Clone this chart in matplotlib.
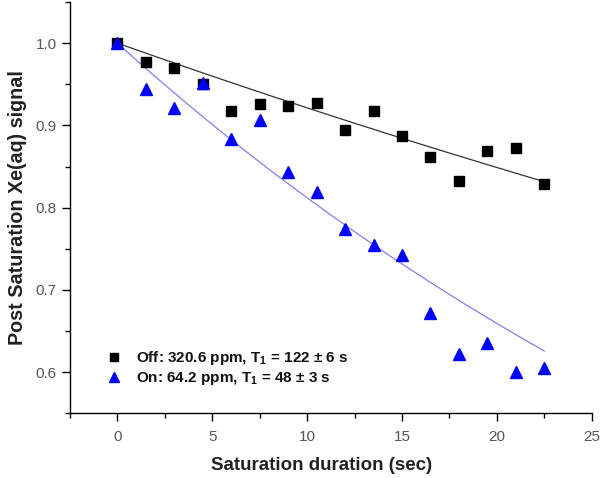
import numpy as np
import matplotlib
matplotlib.use("Agg")
import matplotlib.pyplot as plt
from matplotlib.ticker import MultipleLocator, FormatStrFormatter

plt.rcParams['font.family'] = ['Liberation Sans', 'DejaVu Sans']
plt.rcParams['mathtext.fontset'] = 'custom'
plt.rcParams['mathtext.bf'] = 'Liberation Sans:bold'
plt.rcParams['mathtext.rm'] = 'Liberation Sans'

# Data
time_off = [0, 1.5, 3, 4.5, 6, 7.5, 9, 10.5, 12, 13.5, 15, 16.5, 18, 19.5, 21, 22.5]
signal_off = [1.000, 0.977, 0.970, 0.950, 0.918, 0.926, 0.924, 0.927, 0.895,
              0.917, 0.887, 0.862, 0.833, 0.869, 0.873, 0.829]
time_on = [0, 1.5, 3, 4.5, 6, 7.5, 9, 10.5, 12, 13.5, 15, 16.5, 18, 19.5, 21, 22.5]
signal_on = [1.000, 0.944, 0.921, 0.952, 0.883, 0.906, 0.843, 0.819, 0.774,
             0.754, 0.742, 0.672, 0.622, 0.635, 0.600, 0.605]
T1_off = 122.0
T1_on = 48.0
label_off = r"Off: 320.6 ppm, $\mathbf{T_1}$ = 122 ± 6 s"
label_on = r"On: 64.2 ppm, $\mathbf{T_1}$ = 48 ± 3 s"
xticks = [0, 5, 10, 15, 20, 25]

fig = plt.figure(figsize=(6.01, 4.78), dpi=100)
ax = fig.add_axes([70/601, 1-413.3/478, (591.7-70)/601, (413.3-2)/478])

tfit = np.linspace(0, max(time_off), 200)
ax.plot(tfit, np.exp(-tfit / T1_off), color='#333333', lw=0.9, zorder=2)
ax.plot(tfit, np.exp(-tfit / T1_on), color='#8080ee', lw=0.9, zorder=2)

ax.plot(time_off, signal_off, linestyle='none', marker='s', ms=7.5,
        color='black', label=label_off, zorder=3)
ax.plot(time_on, signal_on, linestyle='none', marker='^', ms=9,
        color='#0000ff', label=label_on, zorder=3)

ax.set_xlim(-2.5, 25)
ax.set_ylim(0.55, 1.05)
ax.set_xticks(xticks)
ax.xaxis.set_minor_locator(MultipleLocator(2.5))
ax.yaxis.set_major_locator(MultipleLocator(0.1))
ax.yaxis.set_minor_locator(MultipleLocator(0.05))
ax.yaxis.set_major_formatter(FormatStrFormatter('%.1f'))
ax.tick_params(which='major', direction='out', length=6, width=1,
               labelsize=11, labelcolor='#555555')
ax.tick_params(axis='x', which='major', pad=6)
ax.tick_params(axis='y', which='major', pad=3.5)
ax.tick_params(which='minor', direction='out', length=3.5, width=1)

for s in ['top', 'right']:
    ax.spines[s].set_visible(False)
for s in ['left', 'bottom']:
    ax.spines[s].set_linewidth(1.0)

ax.set_xlabel('Saturation duration (sec)', fontsize=13.5, fontweight='bold',
              color='#222222')
ax.set_ylabel('Post Saturation Xe(aq) signal', fontsize=14.2, fontweight='bold',
              color='#222222')
ax.xaxis.set_label_coords(0.482, -0.106)
ax.yaxis.set_label_coords(-0.082, 0.50)

leg = ax.legend(loc='lower left', bbox_to_anchor=(0.044, 0.03), frameon=False,
                prop={'size': 11, 'weight': 'bold'}, handlelength=1.0,
                handletextpad=0.9, labelspacing=0.22, markerscale=0.85)
for t in leg.get_texts():
    t.set_color('#111111')

fig.savefig('out.png', dpi=100)
